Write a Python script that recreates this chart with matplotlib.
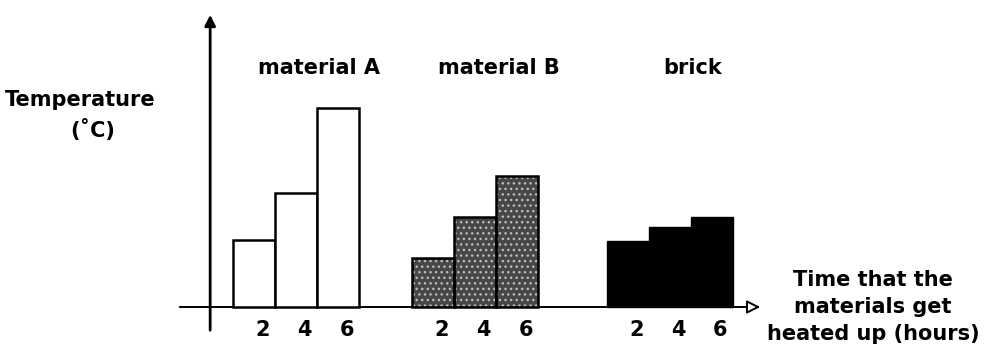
import matplotlib
matplotlib.use('Agg')
import matplotlib.pyplot as plt

# data (heights, arbitrary temperature units)
groups = ['material A', 'material B', 'brick']
hours = ['2', '4', '6']
temp_a = [67, 114, 199]
temp_b = [49, 90, 131]
temp_brick = [66, 80, 90]

plt.rcParams['font.family'] = ['DejaVu Sans']
plt.rcParams['font.weight'] = 'bold'

fig = plt.figure(figsize=(9.87, 3.64), dpi=100)
ax = fig.add_axes([177 / 987, 31 / 364, 586 / 987, 321 / 364])
ax.set_xlim(-0.79, 13.17)
ax.set_ylim(-26, 295)
ax.axis('off')

group_left = [0.55, 4.82, 9.45]
width = 1.0

for g, (name, vals) in enumerate(zip(groups, [temp_a, temp_b, temp_brick])):
    xs = [group_left[g] + width * (i + 0.5) for i in range(len(vals))]
    if g == 0:
        ax.bar(xs, vals, width=width, color='white', edgecolor='black', linewidth=1.8, zorder=2)
    elif g == 1:
        # speckled grey fill
        ax.bar(xs, vals, width=width, color='#474747', edgecolor='none', zorder=2)
        ax.bar(xs, vals, width=width, color='none', edgecolor='#bdbdbd', hatch='...', linewidth=0, zorder=3)
        ax.bar(xs, vals, width=width, color='none', edgecolor='black', linewidth=1.8, zorder=4)
    else:
        ax.bar(xs, vals, width=width, color='black', edgecolor='black', linewidth=1.0, zorder=2)
    for x, h in zip(xs, hours):
        ax.text(x + 0.2, -23, h, ha='center', va='center', fontsize=15)
    ax.text(group_left[g] + 2.05, 239, name, ha='center', va='center', fontsize=15)

# axes with arrows
ax.annotate('', xy=(0, 295), xytext=(0, -26),
            arrowprops=dict(arrowstyle='-|>', color='black', lw=2, mutation_scale=16),
            annotation_clip=False)
ax.annotate('', xy=(13.17, 0), xytext=(-0.79, 0),
            arrowprops=dict(arrowstyle='-|>', color='black', fc='white', lw=1.4, mutation_scale=20),
            annotation_clip=False, zorder=1)

fig.text(80 / 987, 1 - 100 / 364, 'Temperature', ha='center', va='center', fontsize=15)
fig.text(93 / 987, 1 - 130 / 364, '(˚C)', ha='center', va='center', fontsize=15)
fig.text(873 / 987, 1 - 307 / 364, 'Time that the\nmaterials get\nheated up (hours)',
         ha='center', va='center', fontsize=15, linespacing=1.45)

fig.savefig('out.png', dpi=100, facecolor='white')
